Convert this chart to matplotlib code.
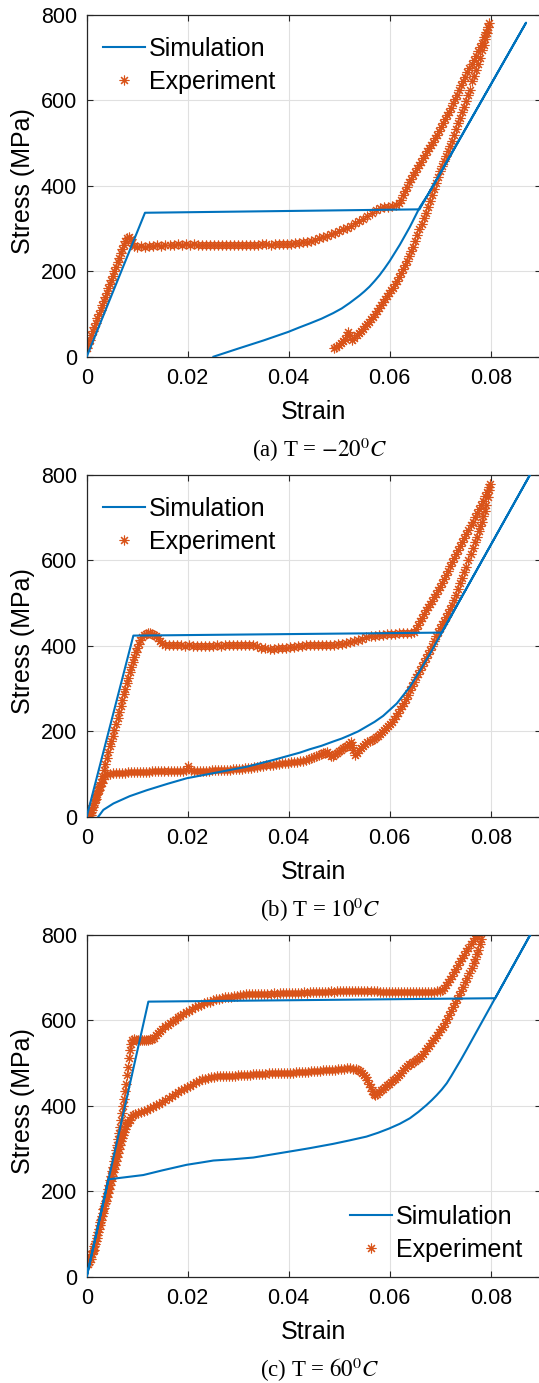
"""
Stress-strain loops at three temperatures: simulation (line) vs experiment (markers).
"""
import numpy as np
import matplotlib
matplotlib.use("Agg")
import matplotlib.pyplot as plt

plt.rcParams["font.family"] = ["Liberation Sans", "DejaVu Sans"]
plt.rcParams["mathtext.fontset"] = "stix"

SIM_BLUE = "#0072BD"
EXP_ORANGE = "#D95319"

strain_ticks = [0, 0.02, 0.04, 0.06, 0.08]
strain_tick_labels = ["0", "0.02", "0.04", "0.06", "0.08"]
stress_ticks = [0, 200, 400, 600, 800]
captions = [r"(a) T = $-20^0C$", r"(b) T = $10^0C$", r"(c) T = $60^0C$"]

# (strain, stress MPa)
sim_a = [(0, 0), (0.01154, 337), (0.0659, 345), (0.0870, 782), (0.0693, 414),
         (0.0676, 380), (0.0660, 351), (0.0640, 304), (0.0620, 262), (0.0600, 224),
         (0.0590, 207), (0.0580, 191), (0.0570, 177), (0.0560, 164), (0.0550, 153),
         (0.0540, 143), (0.0521, 126), (0.0505, 113),
         (0.0488, 102), (0.0465, 89), (0.0442, 78), (0.0420, 68), (0.0399, 58),
         (0.0350, 38), (0.0300, 19), (0.0251, 0)]

exp_a = [(0.0000, 20), (0.0003, 30), (0.0006, 40), (0.0009, 50), (0.0012, 60), (0.0015, 70),
         (0.0018, 80), (0.0021, 90), (0.0024, 100), (0.0028, 110), (0.0031, 120), (0.0034, 130),
         (0.0037, 140), (0.0040, 150), (0.0043, 160), (0.0046, 170), (0.0049, 180), (0.0052, 190),
         (0.0055, 200), (0.0058, 210), (0.0061, 222), (0.0064, 232), (0.0067, 242), (0.0070, 252),
         (0.0073, 262), (0.0076, 270), (0.0079, 277), (0.0083, 281), (0.0087, 276), (0.0090, 266),
         (0.0093, 259),
         (0.0100, 257), (0.0108, 259), (0.0116, 258), (0.0124, 260), (0.0132, 259), (0.0140, 261),
         (0.0148, 260), (0.0156, 262), (0.0164, 261), (0.0172, 262), (0.0180, 263), (0.0188, 262),
         (0.0196, 263), (0.0204, 262), (0.0212, 263), (0.0220, 262), (0.0228, 261), (0.0236, 262),
         (0.0244, 261), (0.0252, 262), (0.0260, 261), (0.0268, 262), (0.0276, 261), (0.0284, 261),
         (0.0292, 262), (0.0300, 261), (0.0308, 261), (0.0316, 262), (0.0324, 261), (0.0332, 262),
         (0.0340, 262), (0.0348, 263), (0.0356, 263), (0.0364, 262), (0.0372, 263), (0.0380, 263),
         (0.0388, 264), (0.0396, 265), (0.0404, 265), (0.0412, 266), (0.0420, 267), (0.0428, 268),
         (0.0436, 269), (0.0444, 271), (0.0452, 274), (0.0460, 277), (0.0468, 280), (0.0476, 283),
         (0.0484, 287), (0.0492, 290), (0.0500, 294), (0.0508, 298), (0.0516, 302), (0.0524, 307),
         (0.0532, 312), (0.0540, 317), (0.0548, 323), (0.0556, 330), (0.0564, 337), (0.0572, 343),
         (0.0580, 347), (0.0588, 350), (0.0596, 351), (0.0604, 352), (0.0612, 355), (0.0618, 360),
         (0.0622, 368), (0.0626, 378), (0.0630, 388), (0.0634, 398), (0.0638, 408), (0.0642, 417),
         (0.0646, 425), (0.0650, 433), (0.0654, 441), (0.0658, 449), (0.0662, 457), (0.0666, 465),
         (0.0670, 473), (0.0674, 481), (0.0678, 489), (0.0682, 496), (0.0686, 503), (0.0690, 511),
         (0.0694, 520), (0.0698, 529), (0.0702, 538), (0.0706, 547), (0.0710, 556), (0.0714, 565),
         (0.0718, 574), (0.0722, 583), (0.0726, 593), (0.0730, 603), (0.0734, 613), (0.0738, 625),
         (0.0742, 635), (0.0746, 645), (0.0750, 656), (0.0754, 666), (0.0758, 676), (0.0762, 686),
         (0.0766, 695), (0.0770, 705), (0.0774, 715), (0.0778, 725), (0.0782, 735), (0.0786, 748),
         (0.0790, 760), (0.0794, 772), (0.0797, 782),
         (0.0795, 772), (0.0792, 758), (0.0789, 744), (0.0786, 730), (0.0783, 717), (0.0779, 700),
         (0.0775, 686), (0.0771, 672), (0.0767, 658), (0.0763, 645), (0.0759, 625), (0.0755, 612),
         (0.0751, 598), (0.0747, 585), (0.0743, 572), (0.0739, 559), (0.0735, 546), (0.0731, 532),
         (0.0727, 519), (0.0723, 506), (0.0719, 494), (0.0715, 482), (0.0711, 470), (0.0707, 458),
         (0.0703, 446), (0.0699, 434), (0.0695, 420), (0.0691, 406), (0.0687, 392), (0.0683, 378),
         (0.0679, 364), (0.0675, 350), (0.0671, 337), (0.0667, 324), (0.0663, 311), (0.0659, 298),
         (0.0655, 285), (0.0651, 271), (0.0647, 258), (0.0643, 247), (0.0639, 236), (0.0635, 225),
         (0.0631, 215), (0.0627, 205), (0.0623, 195), (0.0619, 186), (0.0615, 178), (0.0611, 170),
         (0.0607, 162), (0.0603, 155), (0.0599, 148), (0.0595, 142), (0.0591, 135), (0.0587, 128),
         (0.0583, 121), (0.0579, 114), (0.0575, 107), (0.0571, 100), (0.0567, 94), (0.0563, 88),
         (0.0559, 82), (0.0555, 76), (0.0551, 71), (0.0547, 66), (0.0543, 61), (0.0539, 56),
         (0.0535, 51), (0.0530, 44), (0.0525, 38), (0.0521, 50), (0.0518, 58), (0.0515, 50),
         (0.0511, 42), (0.0507, 36), (0.0503, 31), (0.0499, 27), (0.0494, 23), (0.0489, 20)]

sim_b = [(0, 0), (0.00924, 424), (0.0703, 431), (0.0880, 805), (0.0680, 382),
         (0.0660, 342), (0.0640, 304), (0.0614, 265), (0.0600, 250), (0.0587, 236),
         (0.0570, 222), (0.0554, 211), (0.0538, 200), (0.0521, 191), (0.0505, 183),
         (0.0488, 176), (0.0465, 166), (0.0442, 158), (0.0422, 150), (0.0370, 133),
         (0.0317, 117), (0.0260, 104), (0.0198, 90), (0.0160, 77), (0.0119, 62),
         (0.0085, 48), (0.0053, 31), (0.0033, 16), (0.0023, 0)]

exp_b = [(0.0000, 22), (0.0004, 8), (0.0008, 5), (0.0010, 15), (0.0013, 28), (0.0016, 40),
         (0.0019, 50), (0.0022, 60), (0.0025, 70), (0.0028, 82), (0.0031, 96), (0.0034, 110),
         (0.0037, 124), (0.0040, 138), (0.0043, 152), (0.0046, 165), (0.0049, 178), (0.0052, 190),
         (0.0055, 203), (0.0058, 217), (0.0061, 231), (0.0064, 245), (0.0067, 259), (0.0070, 273),
         (0.0073, 287), (0.0076, 300), (0.0079, 312), (0.0082, 325), (0.0085, 338), (0.0088, 351),
         (0.0091, 363), (0.0094, 374), (0.0097, 385), (0.0100, 395), (0.0103, 405), (0.0106, 413),
         (0.0110, 420), (0.0114, 425), (0.0118, 428), (0.0122, 430), (0.0126, 429), (0.0130, 427),
         (0.0134, 425), (0.0138, 422), (0.0142, 418), (0.0146, 412), (0.0150, 406), (0.0155, 401),
         (0.0162, 403), (0.0170, 402), (0.0178, 401), (0.0186, 402), (0.0194, 400), (0.0202, 401),
         (0.0210, 400), (0.0218, 399), (0.0226, 400), (0.0234, 399), (0.0242, 400), (0.0250, 400),
         (0.0258, 401), (0.0266, 400), (0.0274, 401), (0.0282, 402), (0.0290, 403), (0.0298, 402),
         (0.0306, 403), (0.0314, 402), (0.0322, 403), (0.0330, 401), (0.0338, 399), (0.0346, 396),
         (0.0354, 394), (0.0362, 393), (0.0370, 393), (0.0378, 394), (0.0386, 395), (0.0394, 396),
         (0.0402, 397), (0.0410, 398), (0.0418, 399), (0.0426, 400), (0.0434, 401), (0.0442, 401),
         (0.0450, 402), (0.0458, 402), (0.0466, 402), (0.0474, 403), (0.0482, 403), (0.0490, 403),
         (0.0498, 404), (0.0506, 405), (0.0514, 406), (0.0522, 408), (0.0530, 411), (0.0538, 414),
         (0.0546, 417), (0.0554, 420), (0.0562, 422), (0.0570, 424), (0.0578, 425), (0.0586, 426),
         (0.0594, 427), (0.0602, 428), (0.0610, 428), (0.0618, 429), (0.0626, 429), (0.0634, 430),
         (0.0642, 430), (0.0648, 432),
         (0.0652, 440), (0.0656, 449), (0.0660, 458), (0.0664, 466), (0.0668, 475), (0.0672, 483),
         (0.0676, 490), (0.0680, 498), (0.0684, 506), (0.0688, 514), (0.0692, 522), (0.0696, 530),
         (0.0700, 538), (0.0704, 547), (0.0708, 557), (0.0712, 566), (0.0716, 576), (0.0720, 586),
         (0.0724, 596), (0.0728, 606), (0.0732, 615), (0.0736, 625), (0.0740, 634), (0.0744, 644),
         (0.0748, 653), (0.0752, 663), (0.0756, 672), (0.0760, 682), (0.0764, 691), (0.0768, 701),
         (0.0772, 710), (0.0776, 720), (0.0780, 730), (0.0784, 740), (0.0788, 750), (0.0792, 761),
         (0.0796, 772), (0.0799, 778),
         (0.0797, 765), (0.0794, 748), (0.0791, 730), (0.0788, 716), (0.0785, 703), (0.0782, 691),
         (0.0779, 680), (0.0776, 669), (0.0772, 656), (0.0768, 642), (0.0764, 628), (0.0760, 614),
         (0.0756, 600), (0.0752, 585), (0.0748, 572), (0.0744, 559), (0.0740, 546), (0.0736, 533),
         (0.0732, 520), (0.0728, 507), (0.0724, 496), (0.0720, 486), (0.0716, 476), (0.0712, 467),
         (0.0708, 458), (0.0704, 450), (0.0700, 442), (0.0696, 432), (0.0692, 422), (0.0688, 411),
         (0.0684, 400), (0.0680, 390), (0.0676, 380), (0.0672, 371), (0.0668, 362), (0.0664, 353),
         (0.0660, 344), (0.0656, 335), (0.0652, 326), (0.0648, 316), (0.0644, 306), (0.0640, 296),
         (0.0636, 286), (0.0632, 276), (0.0628, 267), (0.0624, 259), (0.0620, 251), (0.0616, 243),
         (0.0612, 236), (0.0608, 229), (0.0604, 222), (0.0600, 217), (0.0596, 212), (0.0592, 207),
         (0.0588, 202), (0.0584, 198), (0.0580, 194), (0.0576, 190), (0.0572, 186), (0.0568, 183),
         (0.0564, 180), (0.0560, 177), (0.0556, 174), (0.0552, 170), (0.0548, 165), (0.0544, 160),
         (0.0540, 155), (0.0536, 150), (0.0532, 145), (0.0528, 155), (0.0526, 168), (0.0524, 176),
         (0.0520, 170), (0.0516, 166), (0.0512, 163), (0.0508, 160), (0.0504, 157), (0.0500, 154),
         (0.0496, 150), (0.0492, 146), (0.0488, 142), (0.0484, 141), (0.0480, 147), (0.0476, 152),
         (0.0472, 150), (0.0468, 148), (0.0464, 147), (0.0460, 145), (0.0455, 142), (0.0450, 139),
         (0.0445, 137), (0.0440, 135), (0.0434, 133), (0.0428, 131), (0.0422, 130), (0.0416, 129),
         (0.0410, 128), (0.0404, 127), (0.0398, 126), (0.0392, 125), (0.0386, 125), (0.0380, 124),
         (0.0374, 123), (0.0368, 122), (0.0362, 121), (0.0356, 120), (0.0350, 119), (0.0344, 118),
         (0.0338, 117), (0.0332, 116), (0.0326, 115), (0.0320, 114), (0.0314, 113), (0.0308, 112),
         (0.0302, 112), (0.0296, 111), (0.0290, 111), (0.0284, 110), (0.0278, 110), (0.0272, 110),
         (0.0266, 109), (0.0260, 109), (0.0254, 109), (0.0248, 109), (0.0242, 108), (0.0236, 108),
         (0.0230, 108), (0.0224, 108), (0.0218, 108), (0.0212, 108), (0.0206, 110), (0.0200, 118),
         (0.0196, 110), (0.0190, 107), (0.0184, 107), (0.0178, 107), (0.0172, 107), (0.0166, 106),
         (0.0160, 106), (0.0154, 106), (0.0148, 106), (0.0142, 106), (0.0136, 106), (0.0130, 106),
         (0.0124, 105), (0.0118, 105), (0.0112, 105), (0.0106, 105), (0.0100, 104), (0.0094, 104),
         (0.0088, 104), (0.0082, 104), (0.0076, 103), (0.0070, 103), (0.0064, 103), (0.0058, 102),
         (0.0052, 102), (0.0046, 101), (0.0040, 100), (0.0036, 96), (0.0033, 88), (0.0030, 80),
         (0.0027, 72), (0.0024, 62), (0.0021, 52), (0.0018, 42), (0.0015, 32), (0.0012, 22),
         (0.0009, 12), (0.0006, 4)]

sim_c = [(0, 0), (0.01221, 644), (0.0809, 652), (0.0880, 804), (0.0752, 531),
         (0.0742, 510), (0.0732, 490), (0.0722, 470), (0.0713, 453), (0.0703, 438),
         (0.0693, 425), (0.0683, 413), (0.0673, 402), (0.0657, 386), (0.0640, 371),
         (0.0620, 358), (0.0599, 347), (0.0577, 337), (0.0554, 328), (0.0520, 319),
         (0.0488, 311), (0.0442, 301), (0.0422, 297), (0.0376, 288), (0.0330, 279),
         (0.0290, 275), (0.0251, 272), (0.0225, 267), (0.0198, 262), (0.0150, 249),
         (0.0112, 238), (0.0043, 228), (0.0, 0)]

exp_c = [(0.0000, 30), (0.0003, 38), (0.0006, 45), (0.0009, 52), (0.0012, 60), (0.0015, 72),
         (0.0018, 84), (0.0021, 98), (0.0024, 112), (0.0027, 128), (0.0030, 143), (0.0033, 158),
         (0.0036, 173), (0.0039, 189), (0.0042, 205), (0.0044, 215), (0.0046, 226), (0.0048, 236),
         (0.0050, 247), (0.0052, 258), (0.0054, 270), (0.0056, 283), (0.0058, 296), (0.0060, 309),
         (0.0062, 322), (0.0064, 336), (0.0066, 350), (0.0068, 366), (0.0070, 383), (0.0072, 400),
         (0.0074, 417), (0.0076, 434), (0.0078, 452), (0.0080, 472), (0.0082, 492), (0.0084, 512),
         (0.0086, 531), (0.0088, 545), (0.0090, 553), (0.0094, 556), (0.0098, 555), (0.0102, 554),
         (0.0106, 554), (0.0110, 554),
         (0.0114, 554), (0.0118, 555), (0.0122, 555), (0.0126, 556), (0.0130, 557), (0.0134, 560),
         (0.0138, 565), (0.0142, 571), (0.0146, 576), (0.0150, 581), (0.0155, 586), (0.0160, 590),
         (0.0165, 594), (0.0170, 598), (0.0175, 602), (0.0180, 607), (0.0185, 611), (0.0190, 615),
         (0.0196, 619), (0.0202, 623), (0.0208, 627), (0.0214, 631), (0.0220, 634), (0.0226, 637),
         (0.0232, 640), (0.0238, 642), (0.0244, 644), (0.0250, 647), (0.0256, 649), (0.0262, 651),
         (0.0268, 652), (0.0274, 654), (0.0280, 655), (0.0286, 656), (0.0292, 657), (0.0298, 658),
         (0.0304, 659), (0.0310, 660), (0.0316, 661), (0.0322, 661), (0.0328, 662), (0.0334, 662),
         (0.0340, 663), (0.0346, 662), (0.0352, 663), (0.0358, 663), (0.0364, 663), (0.0370, 664),
         (0.0376, 663), (0.0382, 664), (0.0388, 664), (0.0394, 664), (0.0400, 665), (0.0406, 664),
         (0.0412, 665), (0.0418, 665), (0.0424, 665), (0.0430, 666), (0.0436, 665), (0.0442, 666),
         (0.0448, 666), (0.0454, 667), (0.0460, 666), (0.0466, 667), (0.0472, 667), (0.0478, 667),
         (0.0484, 668), (0.0490, 667), (0.0496, 668), (0.0502, 668), (0.0508, 668), (0.0514, 668),
         (0.0520, 668), (0.0526, 668), (0.0532, 668), (0.0538, 668), (0.0544, 668), (0.0550, 668),
         (0.0556, 668), (0.0562, 668), (0.0568, 668), (0.0574, 668), (0.0580, 667), (0.0586, 667),
         (0.0592, 667), (0.0598, 667), (0.0604, 667), (0.0610, 667), (0.0616, 667), (0.0622, 667),
         (0.0628, 666), (0.0634, 666), (0.0640, 666), (0.0646, 666), (0.0652, 666), (0.0658, 666),
         (0.0664, 666), (0.0670, 666), (0.0676, 666), (0.0682, 667), (0.0688, 667), (0.0694, 668),
         (0.0700, 669), (0.0704, 672), (0.0708, 677), (0.0712, 684), (0.0716, 690), (0.0720, 697),
         (0.0724, 705), (0.0728, 713), (0.0732, 721), (0.0736, 730), (0.0740, 738), (0.0744, 746),
         (0.0748, 754), (0.0752, 762), (0.0756, 770), (0.0760, 778), (0.0764, 786), (0.0768, 793),
         (0.0772, 798), (0.0777, 802),
         (0.0781, 790), (0.0778, 778), (0.0775, 766), (0.0772, 755), (0.0769, 744), (0.0766, 734),
         (0.0762, 722), (0.0758, 711), (0.0754, 700), (0.0750, 689), (0.0746, 679), (0.0742, 670),
         (0.0738, 660), (0.0734, 651), (0.0730, 641), (0.0726, 632), (0.0722, 622), (0.0718, 613),
         (0.0714, 604), (0.0710, 594), (0.0706, 585), (0.0702, 579), (0.0698, 573), (0.0694, 566),
         (0.0690, 560), (0.0686, 554), (0.0682, 548), (0.0678, 541), (0.0674, 535), (0.0670, 528),
         (0.0666, 522), (0.0662, 517), (0.0658, 513), (0.0654, 509), (0.0650, 505), (0.0646, 502),
         (0.0642, 499), (0.0638, 497), (0.0634, 493), (0.0630, 488), (0.0626, 483), (0.0622, 478),
         (0.0618, 473), (0.0614, 468), (0.0610, 464), (0.0606, 460), (0.0602, 456), (0.0598, 452),
         (0.0594, 448), (0.0590, 444), (0.0586, 440), (0.0582, 436), (0.0578, 432), (0.0574, 428),
         (0.0571, 425), (0.0568, 428), (0.0565, 435), (0.0562, 443), (0.0559, 452), (0.0556, 460),
         (0.0553, 467), (0.0550, 473), (0.0546, 478), (0.0542, 482), (0.0538, 484), (0.0533, 486),
         (0.0528, 487), (0.0522, 488), (0.0516, 488), (0.0510, 487), (0.0504, 486), (0.0498, 486),
         (0.0492, 485), (0.0486, 484), (0.0480, 484), (0.0474, 483), (0.0468, 483), (0.0462, 482),
         (0.0456, 482), (0.0450, 481), (0.0444, 481), (0.0438, 480), (0.0432, 480), (0.0426, 479),
         (0.0420, 479), (0.0414, 479), (0.0408, 478), (0.0402, 478), (0.0396, 478), (0.0390, 477),
         (0.0384, 477), (0.0378, 477), (0.0372, 476), (0.0366, 476), (0.0360, 476), (0.0354, 475),
         (0.0348, 475), (0.0342, 474), (0.0336, 474), (0.0330, 474), (0.0324, 473), (0.0318, 473),
         (0.0312, 472), (0.0306, 472), (0.0300, 472), (0.0294, 471), (0.0288, 471), (0.0282, 471),
         (0.0276, 470), (0.0270, 470), (0.0264, 469), (0.0258, 469), (0.0252, 468), (0.0246, 467),
         (0.0240, 466), (0.0234, 464), (0.0228, 462), (0.0222, 459), (0.0216, 455), (0.0210, 451),
         (0.0204, 447), (0.0198, 443), (0.0192, 440), (0.0186, 437), (0.0180, 433), (0.0174, 428),
         (0.0168, 423), (0.0162, 418), (0.0156, 413), (0.0150, 409), (0.0144, 405), (0.0138, 401),
         (0.0132, 397), (0.0126, 394), (0.0120, 391), (0.0114, 388), (0.0108, 386), (0.0102, 384),
         (0.0096, 381), (0.0092, 378), (0.0088, 373), (0.0085, 366), (0.0082, 362), (0.0080, 360),
         (0.0078, 353), (0.0076, 346), (0.0074, 339), (0.0072, 332), (0.0070, 325), (0.0068, 318),
         (0.0066, 309), (0.0064, 300), (0.0062, 290), (0.0060, 281), (0.0058, 271), (0.0056, 262),
         (0.0054, 253), (0.0052, 244), (0.0050, 235), (0.0048, 225), (0.0046, 215), (0.0044, 205),
         (0.0042, 196), (0.0040, 186), (0.0038, 177), (0.0035, 162), (0.0032, 148), (0.0029, 133),
         (0.0026, 120), (0.0023, 105), (0.0020, 90), (0.0017, 76), (0.0014, 63), (0.0011, 52),
         (0.0008, 42), (0.0005, 35), (0.0002, 30)]

W, H = 539, 1383
fig = plt.figure(figsize=(W / 100, H / 100), dpi=100)

panels = [
    (sim_a, exp_a, dict(loc="upper left", bbox_to_anchor=(0.035, 0.935))),
    (sim_b, exp_b, dict(loc="upper left", bbox_to_anchor=(0.035, 0.935))),
    (sim_c, exp_c, dict(loc="upper left", bbox_to_anchor=(0.579, 0.210))),
]

for i, (sim, exp, leg_kw) in enumerate(panels):
    off = 460 * i
    ax = fig.add_axes([86.7 / W, 1 - (356.7 + off) / H, 454.5 / W, 341.7 / H])
    sx, sy = np.array(sim).T
    ex, ey = np.array(exp).T
    ax.plot(sx, sy, color=SIM_BLUE, lw=1.5, label="Simulation", zorder=3)
    ax.plot(ex, ey, ls="none", marker=(8, 2, 0), ms=7, mew=0.8,
            color=EXP_ORANGE, label="Experiment", zorder=2)

    ax.set_xlim(0, 0.09)
    ax.set_ylim(0, 800)
    ax.set_xticks(strain_ticks)
    ax.set_xticklabels(strain_tick_labels)
    ax.set_yticks(stress_ticks)
    ax.tick_params(direction="in", top=True, right=True, length=4, width=0.8,
                   labelsize=15.5, colors="#262626", pad=8)
    ax.tick_params(axis="x", labelcolor="black")
    ax.tick_params(axis="y", labelcolor="black", pad=7)
    ax.grid(True, color="#e0e0e0", lw=0.8)
    ax.set_axisbelow(True)
    for sp in ax.spines.values():
        sp.set_color("#262626")
        sp.set_linewidth(0.9)

    ax.set_xlabel("Strain", fontsize=18)
    ax.xaxis.label.set_va("center")
    ax.xaxis.set_label_coords(0.5, -0.162)
    ax.set_ylabel("Stress (MPa)", fontsize=18)
    ax.yaxis.label.set_va("center")
    ax.yaxis.set_label_coords(-0.140, 0.515)

    ax.legend(frameon=False, fontsize=18, handlelength=1.7, handletextpad=0.15,
              labelspacing=0.36, borderpad=0, borderaxespad=0, numpoints=1, **leg_kw)

    fig.text(320 / W, 1 - (450 + off) / H, captions[i], ha="center", va="center",
             fontsize=16.5, family=["Liberation Serif", "DejaVu Serif"])

fig.savefig("out.png", dpi=100)
